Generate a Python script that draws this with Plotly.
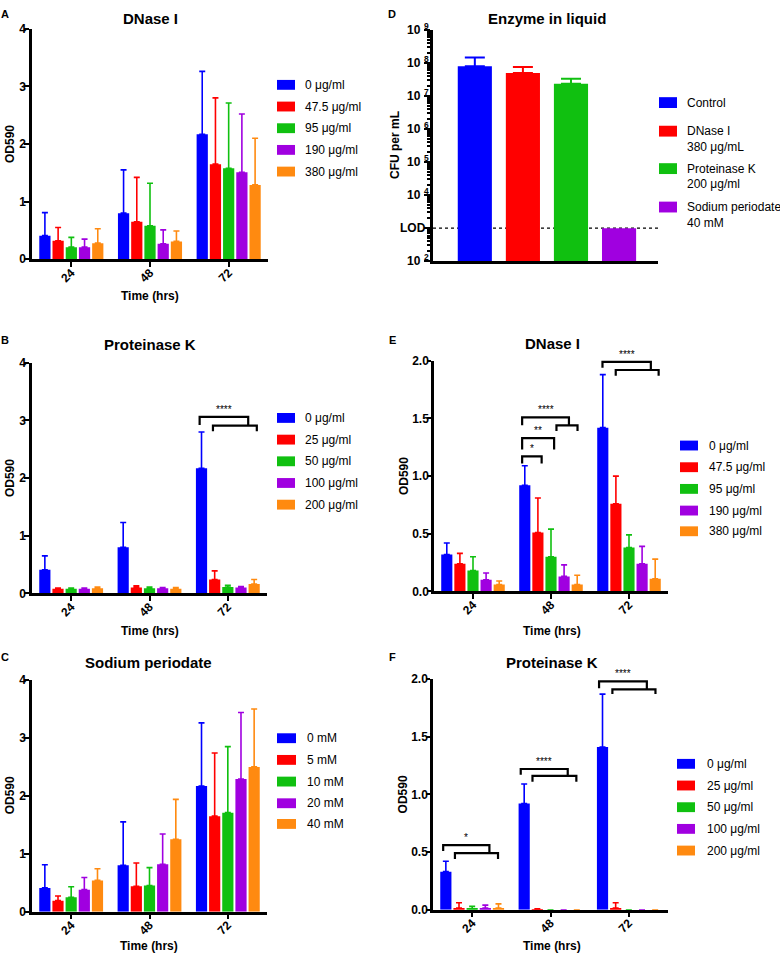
import plotly.graph_objects as go

W, H = 780, 963

# ---------------- data ----------------
TIME_LABELS = ["24", "48", "72"]
COLORS = ["#0000FF", "#FF0000", "#10C010", "#A000E0", "#FF8A10"]

A_LABELS = ["0 μg/ml", "47.5 μg/ml", "95 μg/ml", "190 μg/ml", "380 μg/ml"]
A_0 = [0.41, 0.80, 2.17]; A_0_SD = [0.40, 0.75, 1.09]
A_475 = [0.32, 0.65, 1.65]; A_475_SD = [0.23, 0.77, 1.15]
A_95 = [0.21, 0.58, 1.58]; A_95_SD = [0.17, 0.74, 1.13]
A_190 = [0.21, 0.27, 1.51]; A_190_SD = [0.14, 0.24, 1.01]
A_380 = [0.28, 0.31, 1.29]; A_380_SD = [0.25, 0.18, 0.81]

B_LABELS = ["0 μg/ml", "25 μg/ml", "50 μg/ml", "100 μg/ml", "200 μg/ml"]
B_0 = [0.41, 0.80, 2.17]; B_0_SD = [0.24, 0.43, 0.63]
B_25 = [0.08, 0.10, 0.24]; B_25_SD = [0.01, 0.03, 0.15]
B_50 = [0.08, 0.09, 0.11]; B_50_SD = [0.01, 0.02, 0.03]
B_100 = [0.08, 0.09, 0.10]; B_100_SD = [0.01, 0.01, 0.02]
B_200 = [0.09, 0.08, 0.16]; B_200_SD = [0.02, 0.02, 0.08]

C_LABELS = ["0 mM", "5 mM", "10 mM", "20 mM", "40 mM"]
C_0 = [0.41, 0.80, 2.17]; C_0_SD = [0.40, 0.75, 1.09]
C_5 = [0.19, 0.44, 1.65]; C_5_SD = [0.08, 0.40, 1.09]
C_10 = [0.25, 0.45, 1.71]; C_10_SD = [0.18, 0.31, 1.14]
C_20 = [0.38, 0.82, 2.29]; C_20_SD = [0.21, 0.52, 1.15]
C_40 = [0.54, 1.25, 2.50]; C_40_SD = [0.20, 0.69, 1.00]

D_LABELS = [["Control"], ["DNase I", "380 μg/mL"], ["Proteinase K", "200 μg/ml"],
            ["Sodium periodate", "40 mM"]]
D_CFU = [7.8e7, 4.9e7, 2.3e7, 1.0e3]
D_CFU_SD = [6.7e7, 2.5e7, 1.0e7, 0.0]
D_LOD = 1.0e3
D_EXPONENTS = [2, 3, 4, 5, 6, 7, 8, 9]

E_LABELS = ["0 μg/ml", "47.5 μg/ml", "95 μg/ml", "190 μg/ml", "380 μg/ml"]
E_0 = [0.32, 0.92, 1.42]; E_0_SD = [0.10, 0.17, 0.46]
E_475 = [0.24, 0.51, 0.76]; E_475_SD = [0.09, 0.30, 0.24]
E_95 = [0.18, 0.30, 0.38]; E_95_SD = [0.12, 0.24, 0.11]
E_190 = [0.10, 0.13, 0.24]; E_190_SD = [0.06, 0.10, 0.15]
E_380 = [0.06, 0.06, 0.11]; E_380_SD = [0.03, 0.08, 0.17]

F_LABELS = ["0 μg/ml", "25 μg/ml", "50 μg/ml", "100 μg/ml", "200 μg/ml"]
F_0 = [0.33, 0.92, 1.41]; F_0_SD = [0.09, 0.17, 0.46]
F_25 = [0.015, 0.004, 0.015]; F_25_SD = [0.045, 0.003, 0.045]
F_50 = [0.01, 0.0, 0.0]; F_50_SD = [0.02, 0.0, 0.0]
F_100 = [0.015, 0.0, 0.0]; F_100_SD = [0.025, 0.0, 0.0]
F_200 = [0.015, 0.0, 0.0]; F_200_SD = [0.035, 0.0, 0.0]

# ---------------- layout geometry (pixels) ----------------
PANELS = {
    "A": dict(ax=1, px=(32, 268), py=(22, 256), xr=(-0.5, 2.5), yr=(0, 4)),
    "B": dict(ax=2, px=(32, 267), py=(361, 595), xr=(-0.5, 2.5), yr=(0, 4)),
    "C": dict(ax=3, px=(32, 267), py=(683, 918), xr=(-0.5, 2.5), yr=(0, 4)),
    "D": dict(ax=4, px=(433, 658), py=(23, 258), xr=(-0.87, 3.81), yr=(2, 9)),
    "E": dict(ax=5, px=(434, 668), py=(359, 593), xr=(-0.5, 2.5), yr=(0, 2)),
    "F": dict(ax=6, px=(433, 668), py=(682, 916), xr=(-0.5, 2.5), yr=(0, 2)),
}

FONT = "Liberation Sans, Arial, sans-serif"


def pxx(x):
    return x / W


def pxy(y):
    return 1 - y / H


def data_to_paper(panel, x, y):
    p = PANELS[panel]
    (x0, x1), (y0, y1) = p["px"], p["py"]
    (r0, r1), (s0, s1) = p["xr"], p["yr"]
    xp = x0 + (x - r0) / (r1 - r0) * (x1 - x0)
    yp = y1 - (y - s0) / (s1 - s0) * (y1 - y0)
    return pxx(xp), pxy(yp)


fig = go.Figure()


def add_grouped(panel, series, sds, labels):
    ax = PANELS[panel]["ax"]
    sfx = "" if ax == 1 else str(ax)
    for vals, sd, lab, col in zip(series, sds, labels, COLORS):
        fig.add_trace(go.Bar(
            x=[0, 1, 2], y=vals, name=lab, marker=dict(color=col, line=dict(width=0)),
            error_y=dict(type="data", symmetric=False, array=sd, arrayminus=[0] * 3,
                         color=col, thickness=1.6, width=3),
            xaxis="x" + sfx, yaxis="y" + sfx, showlegend=False))


add_grouped("A", [A_0, A_475, A_95, A_190, A_380],
            [A_0_SD, A_475_SD, A_95_SD, A_190_SD, A_380_SD], A_LABELS)
add_grouped("B", [B_0, B_25, B_50, B_100, B_200],
            [B_0_SD, B_25_SD, B_50_SD, B_100_SD, B_200_SD], B_LABELS)
add_grouped("C", [C_0, C_5, C_10, C_20, C_40],
            [C_0_SD, C_5_SD, C_10_SD, C_20_SD, C_40_SD], C_LABELS)
add_grouped("E", [E_0, E_475, E_95, E_190, E_380],
            [E_0_SD, E_475_SD, E_95_SD, E_190_SD, E_380_SD], E_LABELS)
add_grouped("F", [F_0, F_25, F_50, F_100, F_200],
            [F_0_SD, F_25_SD, F_50_SD, F_100_SD, F_200_SD], F_LABELS)

# panel D: one bar per treatment, each with its own coloured error bar
for i in range(4):
    fig.add_trace(go.Bar(
        x=[i], y=[D_CFU[i]], width=0.71, marker=dict(color=COLORS[i], line=dict(width=0)),
        error_y=dict(type="data", symmetric=False, array=[D_CFU_SD[i]], arrayminus=[0],
                     color=COLORS[i], thickness=2, width=10, visible=D_CFU_SD[i] > 0),
        xaxis="x4", yaxis="y4", showlegend=False, offset=-0.355))

shapes = []
annotations = []

axis_common = dict(showline=True, linecolor="black", linewidth=2.5, ticks="outside",
                   tickcolor="black", tickwidth=2, showgrid=False, zeroline=False,
                   tickfont=dict(family=FONT, size=12, color="black", weight="bold"))

layout_axes = {}
for key, p in PANELS.items():
    ax = p["ax"]
    sfx = "" if ax == 1 else str(ax)
    xd = [pxx(p["px"][0]), pxx(p["px"][1])]
    yd = [pxy(p["py"][1]), pxy(p["py"][0])]
    xa = dict(axis_common, domain=xd, range=list(p["xr"]), anchor="y" + sfx)
    ya = dict(axis_common, domain=yd, range=list(p["yr"]), anchor="x" + sfx,
              ticklabelstandoff=-4)
    if key == "D":
        xa.update(ticks="", showticklabels=False)
        ya.update(type="log", ticklen=6, showticklabels=False,
                  tickvals=[10 ** k for k in D_EXPONENTS],
                  minor=dict(ticks="outside", ticklen=3.5, tickwidth=1.5, tickcolor="black",
                             tickvals=[m * 10 ** k for k in range(2, 9) for m in range(2, 10)]))
    else:
        xa.update(tickvals=[0, 1, 2], ticktext=TIME_LABELS, tickangle=-45, ticklen=5,
                  ticklabelstandoff=-6)
        if p["yr"][1] == 4:
            ya.update(tickvals=[0, 1, 2, 3, 4], ticklen=5)
        else:
            ya.update(tickvals=[0, 0.5, 1.0, 1.5, 2.0], tickformat=".1f", ticklen=4)
    layout_axes["xaxis" + sfx] = xa
    layout_axes["yaxis" + sfx] = ya

# LOD dotted line
lx0, ly = data_to_paper("D", PANELS["D"]["xr"][0], 3)
lx1, _ = data_to_paper("D", PANELS["D"]["xr"][1], 3)
shapes.append(dict(type="line", xref="paper", yref="paper", x0=lx0, x1=lx1, y0=ly, y1=ly,
                   line=dict(color="black", width=1.2, dash="dot"), layer="below"))


def text(s, x, y, size=12, bold=False, anchor="center", angle=0, yanchor="middle", paper=False):
    xp = x if paper else pxx(x)
    yp = y if paper else pxy(y)
    annotations.append(dict(text=("<b>%s</b>" % s) if bold else s, x=xp, y=yp,
                            xref="paper", yref="paper", xanchor=anchor, yanchor=yanchor,
                            showarrow=False, textangle=angle,
                            font=dict(family=FONT, size=size, color="black")))


# D log-axis tick labels: base "10" with a raised exponent (LOD replaces 10^3)
for k in D_EXPONENTS:
    _, yk = data_to_paper("D", 0, k)
    if k == 3:
        text("LOD", pxx(428), yk, size=12, bold=True, anchor="right", paper=True)
    else:
        text("10", pxx(423), yk, size=12, bold=True, anchor="right", paper=True)
        text(str(k), pxx(422.5), yk + 4 / H, size=8.5, bold=True, anchor="left", paper=True)


# significance brackets
def bracket(panel, pts, label, sx, sy):
    path = ""
    for i, (x, y) in enumerate(pts):
        xp, yp = data_to_paper(panel, x, y)
        path += ("M" if i == 0 else "L") + "%.5f,%.5f " % (xp, yp)
    shapes.append(dict(type="path", xref="paper", yref="paper", path=path,
                       line=dict(color="black", width=2.2)))
    if label:
        xp, yp = data_to_paper(panel, sx, sy)
        annotations.append(dict(text=label, x=xp, y=yp, xref="paper", yref="paper",
                                xanchor="center", yanchor="bottom", showarrow=False,
                                font=dict(family=FONT, size=10, color="black")))


bracket("B", [(1.64, 2.92), (1.64, 3.06), (2.26, 3.06), (2.26, 2.91)], "****", 1.95, 3.06)
bracket("B", [(1.81, 2.81), (1.81, 2.91), (2.37, 2.91), (2.37, 2.81)], "", 0, 0)

bracket("E", [(0.63, 1.11), (0.63, 1.17), (0.88, 1.17), (0.88, 1.11)], "*", 0.755, 1.17)
bracket("E", [(0.63, 1.23), (0.63, 1.33), (1.04, 1.33), (1.04, 1.23)], "**", 0.835, 1.33)
bracket("E", [(0.63, 1.44), (0.63, 1.51), (1.23, 1.51), (1.23, 1.44)], "****", 0.93, 1.51)
bracket("E", [(1.07, 1.39), (1.07, 1.44), (1.34, 1.44), (1.34, 1.39)], "", 0, 0)
bracket("E", [(1.66, 1.94), (1.66, 1.99), (2.28, 1.99), (2.28, 1.92)], "****", 1.97, 1.99)
bracket("E", [(1.83, 1.87), (1.83, 1.92), (2.38, 1.92), (2.38, 1.87)], "", 0, 0)

bracket("F", [(-0.37, 0.51), (-0.37, 0.56), (0.22, 0.56), (0.22, 0.49)], "*", -0.075, 0.56)
bracket("F", [(-0.22, 0.44), (-0.22, 0.49), (0.33, 0.49), (0.33, 0.44)], "", 0, 0)
bracket("F", [(0.62, 1.17), (0.62, 1.22), (1.22, 1.22), (1.22, 1.16)], "****", 0.92, 1.22)
bracket("F", [(0.77, 1.11), (0.77, 1.16), (1.33, 1.16), (1.33, 1.11)], "", 0, 0)
bracket("F", [(1.62, 1.92), (1.62, 1.98), (2.23, 1.98), (2.23, 1.91)], "****", 1.925, 1.98)
bracket("F", [(1.79, 1.87), (1.79, 1.91), (2.34, 1.91), (2.34, 1.87)], "", 0, 0)

# panel titles
for s, x, y in [("DNase I", 150, 12), ("Proteinase K", 150, 342), ("Sodium periodate", 148, 665),
                ("Enzyme in liquid", 547, 12), ("DNase I", 552, 341), ("Proteinase K", 552, 665)]:
    text(s, x, y, size=15, bold=True)
# panel letters
for s, x, y in [("A", 5, 7), ("B", 5, 338), ("C", 5, 660), ("D", 392, 7), ("E", 392, 338), ("F", 392, 660)]:
    text(s, x, y, size=11, bold=True)
# y axis titles
for s, x, y in [("OD590", 10, 139), ("OD590", 10, 478), ("OD590", 10, 800),
                ("CFU per mL", 395, 140), ("OD590", 404, 476), ("OD590", 403, 799)]:
    text(s, x, y, size=12, bold=True, angle=-90)
# x axis titles
for s, x, y in [("Time (hrs)", 150, 293), ("Time (hrs)", 150, 633), ("Time (hrs)", 149, 953),
                ("Time (hrs)", 552, 633), ("Time (hrs)", 552, 953)]:
    text(s, x, y, size=12, bold=True)


# manual legends
def legend(labels, sx0, sx1, tx, ys, sh=10):
    for lab, col, y in zip(labels, COLORS, ys):
        shapes.append(dict(type="rect", xref="paper", yref="paper", x0=pxx(sx0), x1=pxx(sx1),
                           y0=pxy(y + sh / 2), y1=pxy(y - sh / 2), fillcolor=col,
                           line=dict(width=0)))
        if isinstance(lab, list):
            for j, line in enumerate(lab):
                text(line, tx, y + j * 16, size=12, anchor="left")
        else:
            text(lab, tx, y, size=12, anchor="left")


legend(A_LABELS, 277, 295, 303, [79, 101, 123, 145, 167])
legend(B_LABELS, 277, 295, 303, [417, 439, 461, 483, 505])
legend(C_LABELS, 277, 296, 305, [742, 764, 786, 808, 829])
legend(D_LABELS, 659, 677, 685, [97, 126, 164, 203], sh=11)
legend(E_LABELS, 680, 698, 707, [445, 467, 489, 511, 532])
legend(F_LABELS, 677, 695, 705, [768, 790, 812, 834, 856])

fig.update_layout(
    width=W, height=H, margin=dict(l=0, r=0, t=0, b=0),
    paper_bgcolor="white", plot_bgcolor="white",
    barmode="group", bargap=0.16, bargroupgap=0.15,
    font=dict(family=FONT, color="black"),
    shapes=shapes, annotations=annotations, showlegend=False,
    **layout_axes)

fig.write_html("out.html", config={"displayModeBar": False},
               post_script="document.body.style.margin='0px';")
